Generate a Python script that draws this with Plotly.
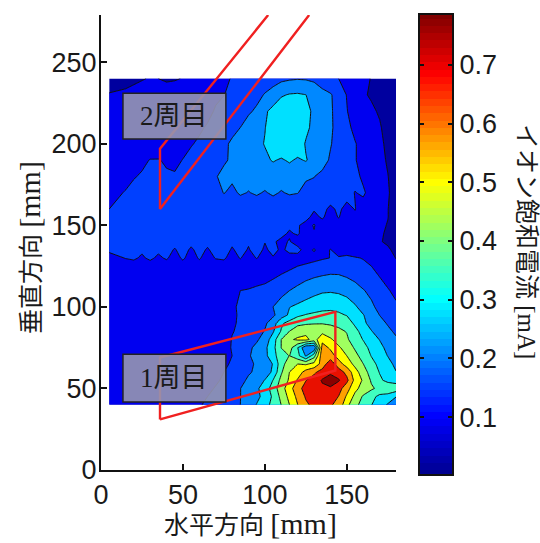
import numpy as np
import plotly.graph_objects as go

x_mm = [5, 15, 20, 25, 30, 35, 40, 45, 50, 55, 60, 65, 70, 75, 80, 85, 90, 95, 100, 105, 110, 115, 120, 125, 130, 135,
        140, 145, 150, 155, 160, 165, 170, 175, 180]
y_mm = [240, 230, 220, 210, 200, 190, 180, 170, 160, 155, 150, 145, 140, 135, 130, 125, 120, 110, 100, 95, 90, 85, 80,
        75, 70, 65, 60, 55, 50, 45, 40]
# ion saturation current, in microamperes
current_ua = [
    [60, 64, 68, 72, 76, 74, 68, 70, 76, 84, 92, 102, 115, 130, 150, 160, 170, 178, 185, 192, 200, 208, 212, 210, 205, 190, 165, 145, 125, 105, 85, 72, 62, 52, 45],
    [76, 80, 84, 88, 92, 94, 96, 100, 104, 110, 118, 126, 136, 144, 156, 168, 182, 200, 220, 240, 280, 292, 295, 288, 255, 232, 222, 190, 142, 112, 78, 70, 62, 52, 45],
    [80, 84, 88, 92, 94, 96, 98, 102, 106, 112, 120, 132, 150, 165, 180, 195, 208, 225, 275, 310, 330, 335, 330, 305, 275, 245, 225, 190, 148, 112, 92, 80, 70, 58, 48],
    [84, 88, 92, 96, 100, 104, 108, 114, 120, 130, 138, 150, 165, 185, 200, 216, 240, 265, 285, 315, 340, 345, 340, 305, 265, 245, 225, 195, 165, 125, 105, 90, 78, 60, 50],
    [90, 95, 100, 105, 112, 118, 122, 128, 134, 142, 152, 168, 185, 205, 225, 240, 255, 272, 290, 320, 335, 340, 330, 280, 255, 240, 222, 180, 165, 150, 118, 98, 80, 68, 52],
    [100, 112, 122, 135, 147, 147, 140, 138, 146, 158, 170, 185, 195, 208, 225, 235, 245, 258, 275, 292, 280, 295, 278, 292, 262, 250, 205, 185, 162, 148, 128, 105, 85, 70, 55],
    [110, 130, 142, 150, 156, 154, 150, 148, 155, 165, 178, 195, 212, 232, 225, 240, 232, 245, 240, 250, 240, 248, 236, 225, 218, 195, 175, 190, 155, 170, 128, 120, 95, 75, 58],
    [130, 148, 158, 162, 166, 166, 165, 165, 170, 174, 178, 185, 195, 218, 205, 222, 214, 222, 212, 224, 212, 222, 218, 195, 190, 175, 192, 150, 175, 142, 158, 110, 98, 78, 58],
    [145, 160, 168, 172, 175, 176, 176, 176, 178, 180, 180, 182, 182, 183, 184, 184, 185, 186, 186, 184, 182, 175, 168, 158, 150, 165, 130, 158, 122, 148, 108, 120, 90, 75, 56],
    [150, 162, 170, 174, 176, 176, 176, 176, 176, 176, 176, 176, 177, 178, 178, 178, 178, 176, 175, 172, 168, 165, 155, 160, 130, 152, 122, 148, 115, 128, 102, 100, 88, 75, 56],
    [152, 166, 172, 175, 175, 175, 175, 175, 175, 175, 174, 174, 174, 174, 174, 172, 170, 168, 165, 160, 162, 152, 150, 128, 148, 118, 142, 110, 118, 100, 100, 90, 82, 72, 56],
    [148, 162, 168, 172, 172, 172, 172, 170, 170, 170, 168, 168, 168, 168, 166, 165, 164, 162, 158, 152, 155, 140, 150, 125, 142, 112, 125, 105, 100, 98, 95, 88, 80, 68, 55],
    [146, 160, 165, 166, 166, 166, 164, 164, 163, 162, 162, 161, 160, 158, 157, 155, 152, 150, 147, 150, 136, 148, 125, 135, 112, 118, 102, 100, 98, 96, 92, 86, 78, 66, 54],
    [150, 155, 160, 150, 162, 152, 165, 140, 168, 135, 165, 138, 168, 172, 138, 165, 140, 170, 135, 162, 135, 158, 160, 125, 150, 118, 148, 112, 130, 108, 112, 105, 96, 82, 60],
    [135, 146, 150, 140, 152, 138, 150, 128, 152, 125, 150, 125, 148, 152, 125, 148, 122, 148, 120, 140, 115, 125, 125, 118, 128, 138, 146, 152, 152, 150, 142, 132, 122, 100, 72],
    [120, 132, 130, 132, 128, 118, 125, 120, 126, 118, 125, 115, 120, 122, 112, 118, 105, 108, 108, 112, 118, 130, 145, 155, 165, 175, 182, 188, 180, 170, 158, 145, 130, 112, 90],
    [95, 95, 95, 95, 92, 88, 92, 92, 92, 92, 92, 92, 92, 92, 95, 98, 100, 105, 110, 130, 145, 160, 175, 190, 202, 210, 216, 215, 205, 190, 176, 160, 140, 120, 105],
    [92, 92, 92, 92, 92, 90, 90, 90, 90, 90, 90, 92, 100, 112, 130, 145, 150, 160, 170, 180, 195, 216, 235, 255, 268, 278, 280, 275, 262, 245, 220, 200, 170, 150, 130],
    [90, 90, 90, 90, 90, 90, 90, 90, 90, 90, 90, 90, 92, 105, 135, 155, 168, 185, 200, 216, 245, 285, 300, 312, 325, 338, 345, 340, 325, 295, 262, 228, 198, 175, 155],
    [90, 90, 90, 90, 90, 90, 90, 90, 90, 90, 90, 90, 92, 108, 138, 150, 158, 172, 190, 205, 250, 300, 345, 362, 372, 378, 375, 368, 355, 325, 290, 255, 215, 190, 170],
    [90, 90, 90, 90, 90, 90, 90, 90, 90, 90, 90, 90, 92, 110, 140, 150, 165, 178, 205, 250, 345, 385, 410, 420, 425, 425, 420, 410, 392, 345, 300, 265, 238, 210, 188],
    [90, 90, 90, 90, 90, 90, 90, 90, 90, 90, 90, 92, 95, 115, 142, 155, 172, 190, 220, 280, 365, 430, 470, 480, 470, 480, 460, 445, 425, 380, 330, 290, 260, 230, 205],
    [90, 90, 90, 90, 90, 90, 90, 90, 90, 90, 90, 92, 98, 118, 148, 158, 185, 205, 250, 320, 430, 490, 510, 520, 470, 550, 510, 470, 440, 390, 355, 315, 285, 255, 225],
    [90, 90, 90, 90, 90, 90, 90, 90, 90, 90, 92, 95, 100, 120, 150, 165, 200, 235, 270, 335, 430, 460, 360, 220, 220, 600, 560, 510, 470, 420, 380, 340, 305, 270, 235],
    [90, 90, 90, 90, 90, 90, 90, 90, 92, 95, 98, 102, 105, 115, 145, 180, 210, 235, 270, 325, 410, 430, 380, 280, 400, 620, 600, 545, 500, 450, 400, 355, 320, 285, 250],
    [90, 90, 90, 90, 90, 90, 90, 90, 92, 95, 100, 105, 115, 130, 155, 180, 200, 225, 255, 290, 400, 470, 500, 490, 520, 600, 690, 600, 540, 480, 430, 380, 340, 310, 270],
    [90, 90, 90, 90, 90, 90, 90, 92, 95, 98, 100, 110, 125, 145, 165, 190, 210, 225, 250, 300, 420, 500, 530, 600, 630, 670, 695, 680, 620, 530, 460, 400, 355, 330, 290],
    [90, 90, 90, 90, 90, 90, 92, 95, 98, 100, 110, 120, 135, 155, 180, 200, 225, 250, 290, 360, 450, 510, 580, 640, 670, 720, 760, 720, 660, 550, 490, 420, 370, 340, 330],
    [90, 90, 90, 90, 90, 92, 95, 98, 100, 105, 115, 130, 150, 170, 195, 215, 240, 275, 320, 390, 470, 540, 620, 665, 690, 700, 700, 670, 600, 520, 470, 440, 410, 410, 400],
    [90, 90, 90, 90, 90, 92, 95, 95, 100, 110, 125, 145, 165, 175, 190, 215, 240, 270, 310, 370, 450, 520, 590, 650, 680, 690, 680, 640, 560, 480, 420, 380, 340, 330, 290],
    [90, 90, 90, 92, 92, 95, 98, 100, 105, 120, 140, 155, 175, 190, 200, 216, 250, 290, 330, 380, 430, 500, 570, 630, 660, 660, 650, 620, 520, 450, 400, 360, 320, 280, 230],
]
colorbar_ticks = [0.1, 0.2, 0.3, 0.4, 0.5, 0.6, 0.7]
round1_x = [36, 143, 143, 36, 36]
round1_y = [31, 61, 97, 69, 31]
round2_x = [127, 36, 36, 102]
round2_y = [279, 160, 197, 279]

JET = [[0, "#00008f"], [0.125, "#0000ff"], [0.38, "#00ffff"], [0.635, "#ffff00"], [0.87, "#ff0000"], [1, "#800000"]]
# one colour per filled band, from the lowest band to the highest
BANDS = [[0, "#00009f"], [0.1, "#0000f0"], [0.2, "#0040ff"], [0.3, "#0088ff"], [0.4, "#00e0ff"], [0.5, "#40ffc0"],
         [0.6, "#a0ff60"], [0.7, "#ffff00"], [0.8, "#ffa000"], [0.9, "#e81000"], [1, "#8a0000"]]
VMIN, VMAX = 0.003, 0.785
TICK_FONT = dict(family="Liberation Sans, Arial, sans-serif", size=27, color="#1a1a1a")
TITLE_FONT = dict(family="Liberation Serif, Noto Sans CJK JP", size=25, color="#1a1a1a")
LABEL_FONT = dict(family="Liberation Serif, Noto Sans CJK JP", size=27, color="#1a1a1a")
WIDE_MM = '<span style="font-size:30px">[mm]</span>'

fig = go.Figure()
fig.add_trace(go.Contour(
    x=x_mm, y=y_mm, z=(np.array(current_ua) / 1000).tolist(), colorscale=BANDS, showscale=False,
    contours=dict(coloring="fill", start=0.074, end=0.72, size=0.071),
    line=dict(color="#111", width=1, smoothing=0),
    xaxis="x", yaxis="y",
))
fig.add_trace(go.Scatter(x=round1_x, y=round1_y, mode="lines", line=dict(color="#f02020", width=2.4), xaxis="x", yaxis="y", showlegend=False))
fig.add_trace(go.Scatter(x=round2_x, y=round2_y, mode="lines", line=dict(color="#f02020", width=2.4), xaxis="x", yaxis="y", showlegend=False))

# colour bar, drawn as a 64-step image on its own axis
steps = np.linspace(VMIN, VMAX, 64)
fig.add_trace(go.Heatmap(x=[0], y=steps, z=[[v] for v in steps], zmin=VMIN, zmax=VMAX, colorscale=JET,
                         showscale=False, xaxis="x2", yaxis="y2"))

W, H = 540, 543
fig.update_layout(
    width=W, height=H, margin=dict(l=0, r=0, t=0, b=0), autosize=False,
    paper_bgcolor="white", plot_bgcolor="white", showlegend=False,
    xaxis=dict(domain=[101 / W, 396 / W], range=[0, 180], tickvals=[0, 50, 100, 150], ticks="inside", ticklen=6,
               tickcolor="#111", tickwidth=2, showline=True, linecolor="#111", linewidth=2, showgrid=False,
               zeroline=False, tickfont=TICK_FONT, automargin=False),
    yaxis=dict(domain=[(H - 470) / H, (H - 15) / H], range=[0, 279], tickvals=[0, 50, 100, 150, 200, 250], ticks="inside",
               ticklen=6, tickcolor="#111", tickwidth=2, showline=True, linecolor="#111", linewidth=2, showgrid=False,
               zeroline=False, tickfont=TICK_FONT, automargin=False, ticklabelstandoff=-3),
    xaxis2=dict(domain=[420 / W, 452 / W], anchor="y2", visible=True, showticklabels=False, ticks="", showline=True,
                mirror=True, linecolor="#111", linewidth=2, showgrid=False, zeroline=False, automargin=False),
    yaxis2=dict(domain=[(H - 474) / H, (H - 15) / H], anchor="x2", side="right", range=[VMIN, VMAX],
                tickvals=colorbar_ticks, tickformat=".1f", ticks="inside", ticklen=4, tickcolor="#111", tickwidth=2,
                showline=True, mirror="ticks", linecolor="#111", linewidth=2, showgrid=False, zeroline=False,
                tickfont=TICK_FONT, automargin=False),
    shapes=[
        dict(type="rect", xref="x", yref="y", x0=13.4, x1=76.2, y0=203, y1=231, fillcolor="rgba(150,150,175,0.9)",
             line=dict(color="#222", width=1.5), layer="above"),
        dict(type="rect", xref="x", yref="y", x0=13.4, x1=76.2, y0=41.7, y1=71, fillcolor="rgba(150,150,175,0.9)",
             line=dict(color="#222", width=1.5), layer="above"),
    ],
    annotations=[
        dict(text="2周目", x=44.8, y=217, xref="x", yref="y", showarrow=False, font=LABEL_FONT),
        dict(text="1周目", x=44.8, y=56.5, xref="x", yref="y", showarrow=False, font=LABEL_FONT),
        dict(text="水平方向 " + WIDE_MM, x=250 / W, y=1 - 523 / H, xref="paper", yref="paper", xanchor="center", yanchor="middle",
             showarrow=False, font=TITLE_FONT),
        dict(text="垂直方向 " + WIDE_MM, x=30 / W, y=1 - 248 / H, xref="paper", yref="paper", xanchor="center", yanchor="middle",
             showarrow=False, font=TITLE_FONT, textangle=-90),
        dict(text="イオン飽和電流 [mA]", x=527 / W, y=1 - 241 / H, xref="paper", yref="paper", xanchor="center", yanchor="middle",
             showarrow=False, font=TITLE_FONT, textangle=90),
    ],
)
fig.write_html("out.html", post_script="document.body.style.margin='0';", config=dict(displayModeBar=False))
